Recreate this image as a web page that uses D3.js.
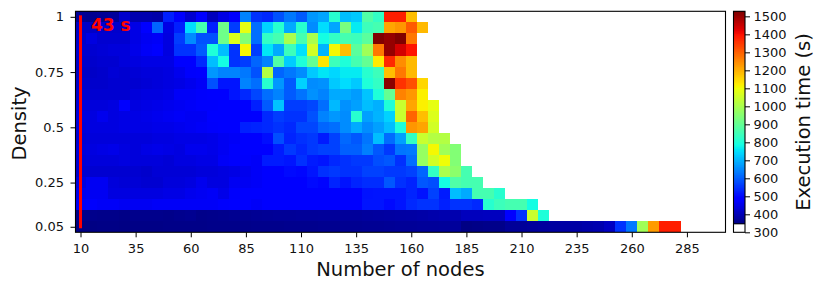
<!DOCTYPE html>
<html>
<head>
<meta charset="utf-8">
<script src="https://cdn.jsdelivr.net/npm/d3@7"></script>
<style>
body { margin: 0; background: #fff; }
text { font-family: "DejaVu Sans", sans-serif; fill: #000; }
.tick text { font-size: 13px; fill: #111; }
.axisTitle { font-size: 19.5px; fill: #111; }
</style>
</head>
<body>
<div id="graph"></div>
<script>
// one row per density, first value is 10 nodes, then every 5 nodes
const densities = [1, 0.95, 0.9, 0.85, 0.8, 0.75, 0.7, 0.65, 0.6, 0.55, 0.5, 0.45, 0.4, 0.35, 0.3, 0.25, 0.2, 0.15, 0.1, 0.05];
const execTimes = [
	[370,365,370,375,425,395,395,390,530,480,430,485,410,450,490,646,553,541,588,634,599,669,686,817,715,727,875,832,1384,1384,1184],
	[420,420,425,425,425,450,485,611,450,530,750,860,530,918,564,1090,622,738,817,692,817,657,750,686,932,767,846,860,1216,1234,1309,1190],
	[425,445,430,430,430,450,465,470,445,564,657,588,588,918,1076,947,622,832,860,1004,860,1004,789,832,860,846,889,1528,1506,1528,1272],
	[430,430,435,440,440,455,470,480,445,553,553,599,803,715,553,1112,564,761,692,846,755,1061,703,1112,1184,889,990,1272,1506,1444,1397],
	[425,425,430,430,440,445,450,450,450,485,490,541,715,789,553,564,611,646,875,732,803,904,1134,846,803,860,904,1128,1372,1247,1190],
	[420,420,425,435,430,435,440,440,445,460,475,480,669,646,646,634,588,1018,611,634,657,727,761,744,767,767,817,846,1184,1272,1190],
	[425,425,425,430,430,430,435,440,445,450,460,470,588,518,518,646,622,817,669,599,738,657,663,727,750,727,803,832,1516,1359,1322,1153],
	[430,430,430,430,430,440,445,445,450,470,470,475,480,490,518,541,576,622,646,599,628,663,646,692,692,675,721,803,904,1259,1234,1122],
	[440,440,440,445,480,445,450,455,460,465,470,475,475,480,490,485,530,599,721,564,564,576,622,709,663,680,715,698,803,1047,1216,1122,1090],
	[445,445,460,445,450,450,455,460,465,470,465,465,480,485,490,490,490,541,564,553,553,588,646,669,657,817,680,703,738,1047,1297,1184,1076],
	[440,445,445,445,450,450,450,455,455,460,465,470,475,480,480,530,535,541,553,541,576,576,611,622,657,692,657,680,715,803,1234,1216,1061],
	[435,440,440,440,440,440,440,445,445,450,450,450,455,465,470,480,490,510,585,535,550,560,525,570,615,595,630,715,620,680,832,1047,1018,1018],
	[440,445,450,455,445,440,450,455,450,445,460,460,455,465,475,480,485,490,525,560,540,560,570,570,605,605,640,595,560,630,635,975,1112,990,947],
	[435,440,440,440,445,440,440,440,435,445,445,450,450,470,475,475,470,525,525,518,550,525,518,540,550,560,560,585,595,550,620,975,1061,1104,947],
	[430,430,430,430,430,430,425,435,435,435,435,440,440,445,450,460,470,480,495,505,500,518,550,560,550,550,570,570,560,560,570,610,832,1004,961,860],
	[445,465,465,440,435,435,430,430,440,440,445,460,445,445,465,465,470,480,480,485,490,505,498,535,515,535,545,545,595,550,535,595,585,789,875,860,860],
	[460,465,465,445,445,445,445,445,450,450,460,465,470,455,475,480,480,480,480,480,485,490,490,495,495,495,515,518,518,518,535,515,570,525,715,692,860,860,817],
	[470,475,470,470,465,465,465,470,470,470,470,470,470,475,480,480,470,480,480,480,480,480,485,485,490,490,518,518,505,518,541,553,553,530,553,553,541,817,846,860,860,789],
	[360,360,358,358,355,360,360,360,358,362,365,358,360,362,365,365,368,370,372,372,374,374,375,375,375,375,378,380,382,384,385,388,392,395,395,410,410,412,412,477,553,1047,803],
	[352,352,354,354,352,354,354,354,356,356,356,356,358,358,358,358,360,360,360,362,362,362,364,364,366,366,368,368,370,372,372,374,374,375,375,352,355,358,358,372,372,375,378,380,385,385,390,395,415,553,634,990,1228,1384,1384]
];
const xTicks = [10, 35, 60, 85, 110, 135, 160, 185, 210, 235, 260, 285];
const yTicks = [1, 0.75, 0.5, 0.25, 0.05];
const barTicks = [300, 400, 500, 600, 700, 800, 900, 1000, 1100, 1200, 1300, 1400, 1500];
const markerNodes = [10, 10];
const markerDensity = [0.05, 1];
const markerLabel = "43 s";

const plot = {left: 75, right: 725.5, top: 11.3, bottom: 232.3};
const bar = {left: 733.5, right: 745};
const vmin = 347, vmax = 1528;

const svg = d3.select("#graph").append("svg")
	.attr("width", 823)
	.attr("height", 290)
	.style("display", "block");

const xScale = d3.scaleLinear().domain([7.5, 302.5]).range([plot.left, plot.right]);
const yScale = d3.scaleLinear().domain([1.025, 0.025]).range([plot.top, plot.bottom]);
const barScale = d3.scaleLinear().domain([300, 1528]).range([232.3, 11.3]);

// matplotlib jet
const jetR = d3.scaleLinear().domain([0, 0.35, 0.66, 0.89, 1]).range([0, 0, 255, 255, 127.5]).clamp(true);
const jetG = d3.scaleLinear().domain([0, 0.125, 0.375, 0.64, 0.91, 1]).range([0, 0, 255, 255, 0, 0]).clamp(true);
const jetB = d3.scaleLinear().domain([0, 0.11, 0.34, 0.65, 1]).range([127.5, 255, 255, 0, 0]).clamp(true);
const norm = d3.scaleLinear().domain([vmin, vmax]).range([0, 1]);
const jet = (v) => {
	const t = norm(v);
	return d3.rgb(jetR(t), jetG(t), jetB(t)).formatRgb();
};

const cells = [];
execTimes.forEach((row, i) => {
	row.forEach((v, j) => {
		cells.push({nodes: 10 + j * 5, density: densities[i], value: v});
	});
});

svg.append("g")
	.attr("shape-rendering", "crispEdges")
	.selectAll("rect")
	.data(cells)
	.enter().append("rect")
	.attr("x", (d) => xScale(d.nodes - 2.5))
	.attr("y", (d) => yScale(d.density + 0.025))
	.attr("width", (d) => xScale(d.nodes + 2.5) - xScale(d.nodes - 2.5))
	.attr("height", (d) => yScale(d.density - 0.025) - yScale(d.density + 0.025))
	.attr("fill", (d) => jet(d.value));

// red marker line and its label
const markerLine = d3.line()
	.x((d) => xScale(d[0]))
	.y((d) => yScale(d[1]));

svg.append("path")
	.attr("d", markerLine(d3.zip(markerNodes, markerDensity)))
	.attr("fill", "none")
	.attr("stroke", "red")
	.attr("stroke-width", 3)
	.attr("stroke-linecap", "square");

svg.append("text")
	.attr("x", 91)
	.attr("y", 31)
	.style("fill", "red")
	.style("font-size", "17px")
	.style("font-weight", "bold")
	.text(markerLabel);

// frame
svg.append("rect")
	.attr("x", 75.5)
	.attr("y", plot.top)
	.attr("width", plot.right - 75.5)
	.attr("height", plot.bottom - plot.top)
	.attr("fill", "none")
	.attr("stroke", "#000")
	.attr("stroke-width", 1.1);

const xAxis = d3.axisBottom(xScale).tickValues(xTicks).tickSizeOuter(0).tickSize(5).tickPadding(6.5);
const yAxis = d3.axisLeft(yScale).tickValues(yTicks).tickFormat((d) => d).tickSizeOuter(0).tickSize(5).tickPadding(6.5);

svg.append("g")
	.attr("transform", "translate(0," + plot.bottom + ")")
	.call(xAxis)
	.call((g) => g.select(".domain").remove());

svg.append("g")
	.attr("transform", "translate(75.5,0)")
	.call(yAxis)
	.call((g) => g.select(".domain").remove());

svg.append("text")
	.attr("class", "axisTitle")
	.attr("x", 400.4)
	.attr("y", 276)
	.attr("text-anchor", "middle")
	.text("Number of nodes");

svg.append("text")
	.attr("class", "axisTitle")
	.attr("transform", "rotate(-90)")
	.attr("x", -123.5)
	.attr("y", 25.7)
	.attr("text-anchor", "middle")
	.text("Density");

// colour bar
const barSteps = d3.range(vmin, vmax, 4);
svg.append("g")
	.attr("shape-rendering", "crispEdges")
	.selectAll("rect")
	.data(barSteps)
	.enter().append("rect")
	.attr("x", bar.left)
	.attr("width", bar.right - bar.left)
	.attr("y", (d) => barScale(d + 4))
	.attr("height", (d) => barScale(d) - barScale(d + 4) + 0.5)
	.attr("fill", (d) => jet(d + 2));

svg.append("rect")
	.attr("x", bar.left)
	.attr("y", plot.top)
	.attr("width", bar.right - bar.left)
	.attr("height", plot.bottom - plot.top)
	.attr("fill", "none")
	.attr("stroke", "#000")
	.attr("stroke-width", 1.1);

svg.append("line")
	.attr("x1", bar.left)
	.attr("x2", bar.right)
	.attr("y1", barScale(vmin))
	.attr("y2", barScale(vmin))
	.attr("stroke", "#000")
	.attr("stroke-width", 1);

svg.append("g")
	.attr("transform", "translate(" + bar.right + ",0)")
	.call(d3.axisRight(barScale).tickValues(barTicks).tickFormat((d) => d).tickSizeOuter(0).tickSize(5).tickPadding(3.5))
	.call((g) => g.select(".domain").remove());

svg.append("text")
	.attr("class", "axisTitle")
	.attr("transform", "rotate(-90)")
	.attr("x", -122)
	.attr("y", 810)
	.attr("text-anchor", "middle")
	.text("Execution time (s)");
</script>
</body>
</html>
